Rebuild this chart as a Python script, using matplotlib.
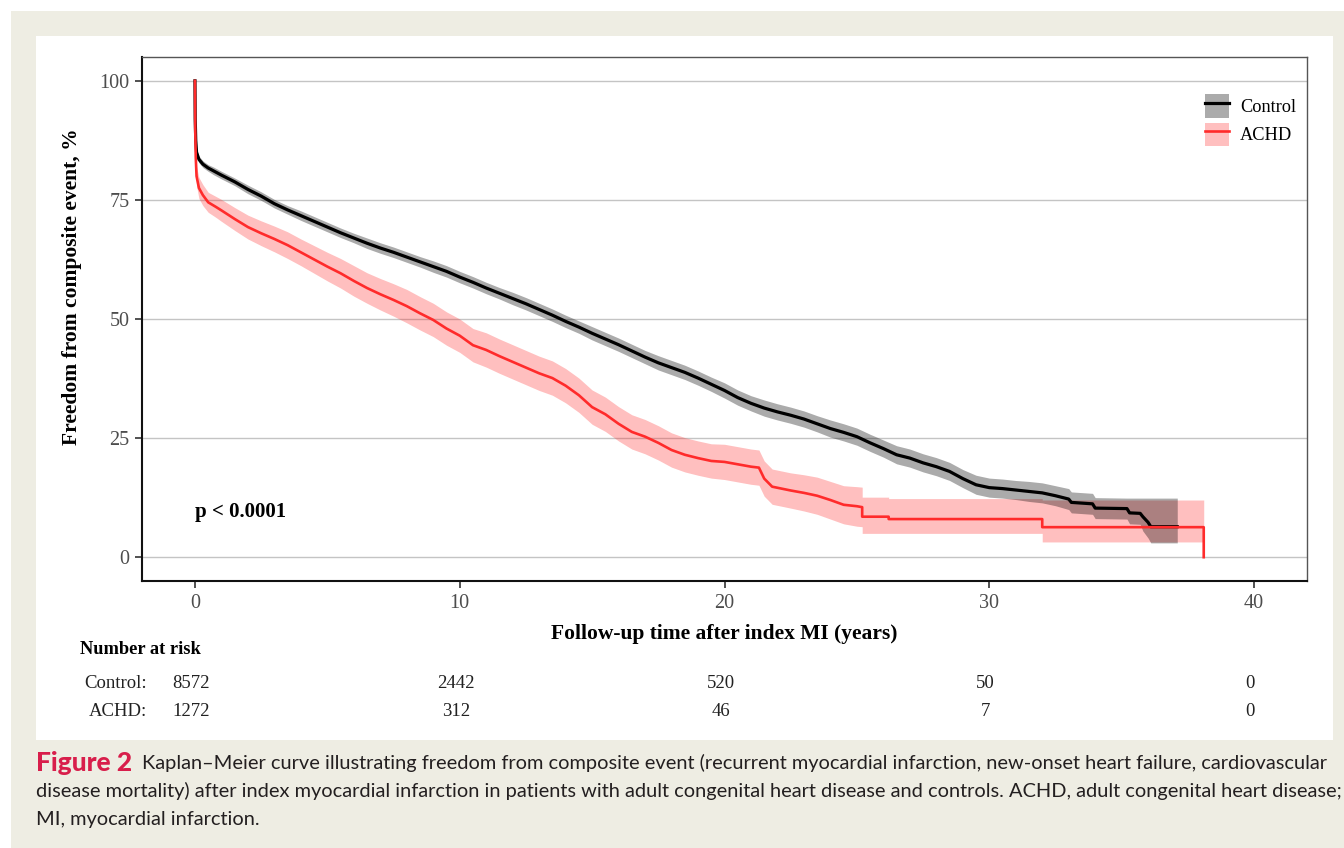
import matplotlib
matplotlib.use("Agg")
import matplotlib.pyplot as plt
import matplotlib.patches as mpatches
import matplotlib.transforms as mtransforms
from matplotlib.lines import Line2D

# =========================
# Dados (curvas de Kaplan-Meier)
# =========================
ctl_t = [0, 0.01, 0.03, 0.06, 0.15, 0.3, 0.5, 0.7, 1.0, 1.5, 2.0, 2.5, 3.0, 3.5, 4.0,
         4.5, 5.0, 5.5, 6.0, 6.5, 7.0, 7.5, 8.0, 8.5, 9.0, 9.5, 10.0, 10.5, 11.0, 11.5,
         12.0, 12.5, 13.0, 13.5, 14.0, 14.5, 15.0, 15.5, 16.0, 16.5, 17.0, 17.5, 18.0,
         18.5, 19.0, 19.5, 20.0, 20.5, 21.0, 21.5, 22.0, 22.5, 23.0, 23.5, 24.0, 24.5,
         25.0, 25.5, 26.0, 26.5, 27.0, 27.5, 28.0, 28.5, 29.0, 29.5, 30.0, 30.5, 31.0,
         31.5, 32.0, 32.5, 33.0, 33.1, 33.9, 34.0, 35.2, 35.3, 35.7, 35.8, 36.0, 36.1, 37.1]
ctl_s = [100, 92, 87.5, 85.0, 83.5, 82.5, 81.7, 81.1, 80.2, 78.8, 77.2, 75.8, 74.2, 72.9, 71.7,
         70.5, 69.3, 68.1, 67.0, 65.9, 64.9, 64.0, 63.0, 62.0, 61.0, 60.0, 58.8, 57.7, 56.5, 55.4,
         54.3, 53.2, 52.0, 50.8, 49.5, 48.3, 47.0, 45.8, 44.6, 43.3, 42.0, 40.8, 39.8,
         38.8, 37.6, 36.3, 35.0, 33.5, 32.3, 31.3, 30.5, 29.8, 29.0, 28.0, 27.0, 26.2,
         25.3, 24.0, 22.8, 21.5, 20.8, 19.8, 19.0, 18.0, 16.5, 15.2, 14.6, 14.4, 14.1,
         13.8, 13.5, 12.9, 12.2, 11.5, 11.2, 10.3, 10.2, 9.3, 9.2, 8.5, 7.3, 6.4, 6.4]
ctl_lo = [100, 91.4, 86.8, 84.3, 82.8, 81.8, 81.0, 80.3, 79.4, 78.0, 76.3, 74.9, 73.3, 72.0, 70.7,
          69.5, 68.3, 67.1, 66.0, 64.8, 63.8, 62.9, 61.9, 60.9, 59.8, 58.8, 57.6, 56.5, 55.3, 54.2,
          53.0, 51.9, 50.7, 49.5, 48.2, 47.0, 45.6, 44.4, 43.2, 41.9, 40.6, 39.3, 38.3,
          37.3, 36.1, 34.8, 33.4, 31.9, 30.7, 29.6, 28.8, 28.1, 27.3, 26.3, 25.2, 24.4,
          23.5, 22.2, 21.0, 19.6, 18.9, 17.9, 17.1, 16.1, 14.6, 13.2, 12.6, 12.4, 12.1,
          11.7, 11.4, 10.8, 10.0, 9.3, 9.0, 8.1, 8.0, 7.0, 6.9, 5.5, 4.0, 3.0, 3.0]
ctl_hi = [100, 92.6, 88.2, 85.7, 84.2, 83.2, 82.4, 81.9, 81.0, 79.6, 78.1, 76.7, 75.1, 73.8, 72.7,
          71.5, 70.3, 69.1, 68.0, 67.0, 66.0, 65.1, 64.1, 63.1, 62.2, 61.2, 60.0, 58.9, 57.7, 56.6,
          55.6, 54.5, 53.3, 52.1, 50.8, 49.6, 48.4, 47.2, 46.0, 44.7, 43.4, 42.3, 41.3,
          40.3, 39.1, 37.8, 36.6, 35.1, 33.9, 33.0, 32.2, 31.5, 30.7, 29.7, 28.8, 28.0,
          27.1, 25.8, 24.6, 23.4, 22.7, 21.7, 20.9, 19.9, 18.4, 17.2, 16.6, 16.4, 16.1,
          15.9, 15.6, 15.0, 14.4, 13.7, 13.4, 12.5, 12.4, 12.4, 12.4, 12.4, 12.4, 12.4, 12.4]

achd_t = [0, 0.01, 0.03, 0.06, 0.15, 0.3, 0.5, 0.8, 1.0, 1.5, 2.0, 2.5, 3.0, 3.5, 4.0,
          4.5, 5.0, 5.5, 6.0, 6.5, 7.0, 7.5, 8.0, 8.5, 9.0, 9.5, 10.0, 10.5, 11.0, 11.5,
          12.0, 12.5, 13.0, 13.5, 14.0, 14.5, 15.0, 15.5, 16.0, 16.5, 17.0, 17.5, 18.0,
          18.5, 19.0, 19.5, 20.0, 20.5, 21.0, 21.3, 21.5, 21.8, 22.5, 23.0, 23.5, 24.0, 24.5,
          25.0, 25.2, 25.2, 26.2, 26.2, 32.0, 32.0, 38.1, 38.1]
achd_s = [100, 90, 84, 80, 77.5, 76.0, 74.5, 73.5, 72.8, 71.0, 69.3, 68.0, 66.8, 65.5, 64.0,
          62.5, 61.0, 59.6, 58.0, 56.5, 55.2, 54.0, 52.7, 51.2, 49.8, 48.0, 46.5, 44.5, 43.5, 42.2,
          41.0, 39.8, 38.6, 37.6, 36.0, 34.0, 31.5, 30.0, 28.0, 26.3, 25.3, 24.0, 22.5,
          21.5, 20.8, 20.2, 20.0, 19.5, 19.0, 18.8, 16.5, 14.8, 14.0, 13.5, 12.9, 12.0, 11.0,
          10.7, 10.5, 8.5, 8.5, 8.0, 8.0, 6.3, 6.3, 0]
achd_lo = [100, 88.5, 82.0, 78.0, 75.3, 73.8, 72.4, 71.3, 70.5, 68.6, 66.8, 65.4, 64.1, 62.7, 61.2,
           59.6, 58.0, 56.5, 54.8, 53.3, 51.9, 50.6, 49.2, 47.7, 46.3, 44.5, 43.0, 41.0, 39.9, 38.6,
           37.4, 36.2, 35.0, 34.0, 32.4, 30.4, 27.9, 26.4, 24.4, 22.7, 21.7, 20.4, 18.9,
           17.9, 17.2, 16.6, 16.3, 15.8, 15.3, 15.1, 12.8, 11.1, 10.3, 9.7, 9.0, 8.0, 7.0,
           6.5, 6.4, 5.0, 5.0, 5.0, 5.0, 3.2, 3.2, 3.2]
achd_hi = [100, 91.5, 86.0, 82.0, 79.7, 78.2, 76.6, 75.7, 75.1, 73.4, 71.8, 70.6, 69.5, 68.3, 66.8,
           65.4, 64.0, 62.7, 61.2, 59.7, 58.5, 57.4, 56.2, 54.7, 53.3, 51.5, 50.0, 48.0, 47.1, 45.8,
           44.6, 43.4, 42.2, 41.2, 39.6, 37.6, 35.1, 33.6, 31.6, 29.9, 28.9, 27.6, 26.1,
           25.1, 24.4, 23.8, 23.7, 23.2, 22.7, 22.5, 20.2, 18.5, 17.7, 17.3, 16.8, 15.9, 15.0,
           14.8, 14.7, 12.6, 12.6, 12.3, 12.3, 12.0, 12.0, 12.0]

# Tabela de pacientes em risco
risk_times = [0, 10, 20, 30, 40]
ctl_risk = [8572, 2442, 520, 50, 0]
achd_risk = [1272, 312, 46, 7, 0]

# =========================
# Figura
# =========================
W, H = 1344, 848
SERIF = ["Liberation Serif", "DejaVu Serif"]
fig = plt.figure(figsize=(W / 100, H / 100), dpi=100)
fig.patch.set_facecolor("white")


def fx(x):
    return x / W


def fy(y):
    return 1 - y / H


# fundo bege e painel branco
fig.patches.append(mpatches.Rectangle((fx(11), 0), 1 - fx(11), fy(11), transform=fig.transFigure,
                                      facecolor="#EEEDE3", edgecolor="none", zorder=-2))
fig.patches.append(mpatches.Rectangle((fx(36), fy(740)), fx(1333) - fx(36), fy(36) - fy(740),
                                      transform=fig.transFigure, facecolor="white",
                                      edgecolor="none", zorder=-1))

ax = fig.add_axes([fx(142), fy(581), fx(1307) - fx(142), fy(57) - fy(581)])
ax.set_facecolor("white")

red = "#FF2B2B"
ax.fill_between(achd_t, achd_lo, achd_hi, color=red, alpha=0.3, lw=0, zorder=2)
ax.fill_between(ctl_t, ctl_lo, ctl_hi, color="black", alpha=0.33, lw=0, zorder=3)
ax.plot(ctl_t, ctl_s, color="black", lw=2.3, zorder=4)
ax.plot(achd_t, achd_s, color=red, lw=1.9, zorder=5)

ax.set_xlim(-2, 42)
ax.set_ylim(-5, 105)
ax.set_xticks(risk_times)
ax.set_yticks([0, 25, 50, 75, 100])
ax.grid(axis="y", color="#C4C4C4", lw=1.0, zorder=0)
for xt in risk_times:
    ax.axvline(xt, color="white", lw=1.5, zorder=1)

for lab in ax.get_xticklabels() + ax.get_yticklabels():
    lab.set_family(SERIF)
    lab.set_fontsize(14.5)
    lab.set_color("#4D4D4D")
ax.tick_params(length=5, width=1.2, color="#333333", pad=4)
for side in ["left", "bottom"]:
    ax.spines[side].set_linewidth(1.5)
    ax.spines[side].set_color("#111111")
for side in ["top", "right"]:
    ax.spines[side].set_linewidth(1.0)
    ax.spines[side].set_color("#555555")

ax.text(0, 9.5, "p < 0.0001", family=SERIF, fontweight="bold", fontsize=15,
        ha="left", va="center")

# legenda
handles = [(mpatches.Patch(facecolor="black", alpha=0.33, lw=0), Line2D([], [], color="black", lw=2.3)),
           (mpatches.Patch(facecolor=red, alpha=0.3, lw=0), Line2D([], [], color=red, lw=1.9))]
ax.legend(handles, ["Control", "ACHD"], loc="upper right", bbox_to_anchor=(1.005, 0.96),
          frameon=False, prop={"family": SERIF, "size": 13.2}, handlelength=1.3,
          handleheight=1.6, handletextpad=0.6, labelspacing=0.25)

# rótulos dos eixos
fig.text(fx(72), fy(287), "Freedom from composite event, %", rotation=90, family=SERIF,
         fontweight="bold", fontsize=15.5, ha="center", va="center")
fig.text(fx(724), fy(634), "Follow-up time after index MI (years)", family=SERIF,
         fontweight="bold", fontsize=15.5, ha="center", va="center")

# =========================
# Número em risco
# =========================
tr = mtransforms.blended_transform_factory(ax.transData, fig.transFigure)
fig.text(fx(80), fy(650), "Number at risk", family=SERIF, fontweight="bold", fontsize=13.2,
         ha="left", va="center")
fig.text(fx(147), fy(683), "Control:", family=SERIF, fontsize=13.5, ha="right", va="center",
         color="#222222")
fig.text(fx(147), fy(712), "ACHD:", family=SERIF, fontsize=13.5, ha="right", va="center",
         color="#222222")
for t, a, b in zip(risk_times, ctl_risk, achd_risk):
    ax.text(t - 0.15, fy(683), str(a), transform=tr, family=SERIF, fontsize=13.5,
            ha="center", va="center", color="#222222")
    ax.text(t - 0.15, fy(712), str(b), transform=tr, family=SERIF, fontsize=13.5,
            ha="center", va="center", color="#222222")

# =========================
# Legenda da figura
# =========================
CAP = ["Lato", "DejaVu Sans"]
fig.text(fx(36), fy(763), "Figure 2", family=CAP, fontweight="black", fontsize=19,
         color="#D81E4B", ha="left", va="center")
fig.text(fx(142), fy(763),
         "Kaplan\u2013Meier curve illustrating freedom from composite event (recurrent myocardial "
         "infarction, new-onset heart failure, cardiovascular",
         family=CAP, fontsize=14.4, color="#231F20", ha="left", va="center")
fig.text(fx(36), fy(791),
         "disease mortality) after index myocardial infarction in patients with adult congenital "
         "heart disease and controls. ACHD, adult congenital heart disease;",
         family=CAP, fontsize=14.4, color="#231F20", ha="left", va="center")
fig.text(fx(36), fy(819), "MI, myocardial infarction.", family=CAP, fontsize=14.4,
         color="#231F20", ha="left", va="center")

plt.savefig("out.png", dpi=100, facecolor=fig.get_facecolor())
